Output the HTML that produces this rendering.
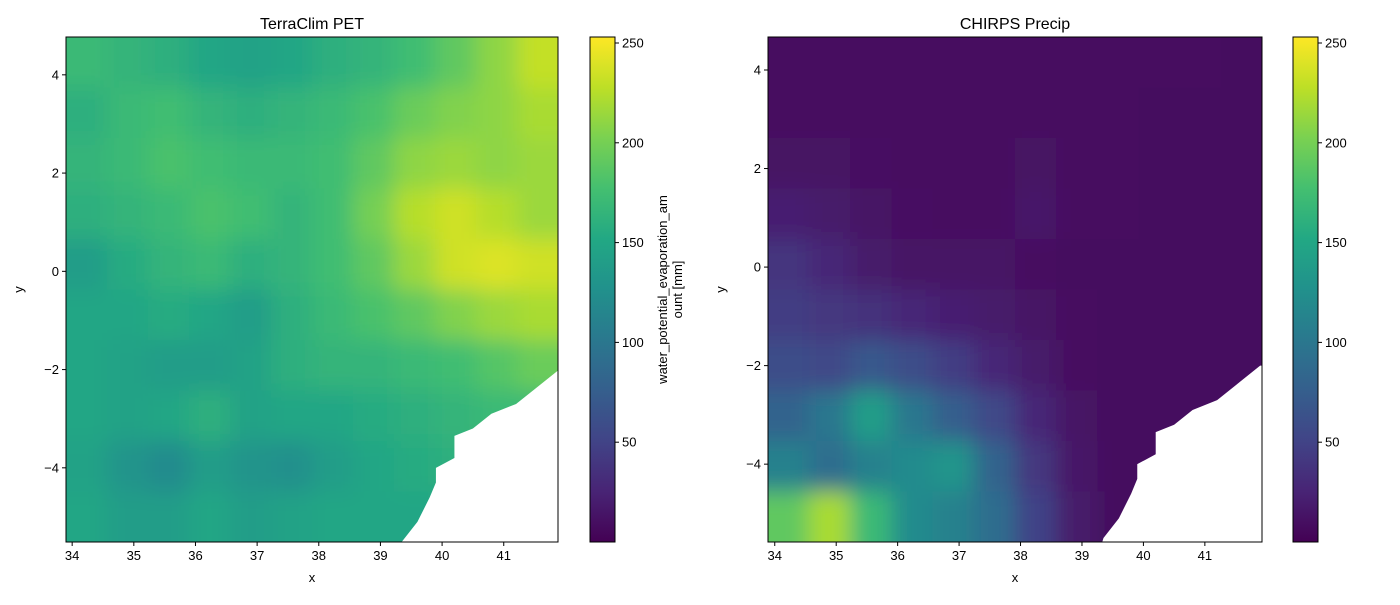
<!DOCTYPE html>
<html><head><meta charset="utf-8">
<style>
body{margin:0;background:#fff;font-family:"Liberation Sans",sans-serif;}
svg text{font-family:"Liberation Sans",sans-serif;fill:#000;}
</style></head>
<body>
<svg id="fig" width="1400" height="600" xmlns="http://www.w3.org/2000/svg">
<defs>
<filter id="blurL" filterUnits="userSpaceOnUse" x="0" y="0" width="700" height="600">
<feGaussianBlur stdDeviation="11"/>
</filter>
<filter id="blurR" filterUnits="userSpaceOnUse" x="700" y="0" width="700" height="600">
<feGaussianBlur stdDeviation="11"/>
</filter>
<linearGradient id="vir" x1="0" y1="1" x2="0" y2="0">
<stop offset="0" stop-color="#440154"/><stop offset="0.1" stop-color="#482475"/>
<stop offset="0.2" stop-color="#414487"/><stop offset="0.3" stop-color="#355f8d"/>
<stop offset="0.4" stop-color="#2a788e"/><stop offset="0.5" stop-color="#21918c"/>
<stop offset="0.6" stop-color="#22a884"/><stop offset="0.7" stop-color="#44bf70"/>
<stop offset="0.8" stop-color="#7ad151"/><stop offset="0.9" stop-color="#bddf26"/>
<stop offset="1" stop-color="#fde725"/>
</linearGradient>
<clipPath id="clipL"><rect x="66" y="37" width="492" height="505"/></clipPath>
<clipPath id="clipR"><rect x="768" y="37" width="494" height="505"/></clipPath>
</defs>
</svg>
<script>
const petGrid = [
[170,165,160,150,145,150,160,165,175,190,210,230],
[160,170,175,165,160,165,170,180,195,205,210,220],
[165,170,180,175,170,170,175,190,210,215,210,215],
[160,165,170,180,175,165,175,200,225,235,225,215],
[140,155,165,170,160,165,175,190,215,235,240,235],
[150,150,155,150,140,160,170,180,190,205,215,220],
[150,145,140,140,145,160,165,165,170,175,185,195],
[150,145,150,160,145,150,150,155,160,165,170,170],
[145,130,120,140,130,125,140,150,155,160,160,160],
[150,140,140,150,140,145,150,150,150,150,150,150]
];
const precipGrid = [
[10,10,10,10,10,10,10,10,10,10,10,8],
[10,10,10,10,10,10,10,10,10,8,8,8],
[12,12,11,10,10,10,12,10,10,8,8,8],
[22,18,13,11,10,10,16,10,10,8,8,8],
[38,28,18,13,13,13,10,8,8,8,8,8],
[45,40,35,28,22,18,13,10,8,8,8,8],
[60,55,70,60,45,28,18,10,8,8,8,8],
[80,100,140,100,75,55,28,13,8,8,8,8],
[110,90,110,120,130,80,40,15,8,8,8,8],
[190,220,170,120,110,90,50,18,8,8,8,8]
];
const coastX = [41.95,41.9,41.5,41.2,40.8,40.5,40.2,40.2,39.9,39.9,39.8,39.6,39.35,39.3];
const coastY = [-2.0,-2.0,-2.4,-2.7,-2.9,-3.2,-3.35,-3.8,-4.0,-4.3,-4.6,-5.1,-5.5,-5.7];
const xTicks = [34,35,36,37,38,39,40,41];
const yTicks = [-4,-2,0,2,4];
const cbTicks = [50,100,150,200,250];
const cbMin = 0, cbMax = 253;

const NS="http://www.w3.org/2000/svg";
const svg=document.getElementById('fig');
function el(t,a,p){const e=document.createElementNS(NS,t);for(const k in a)e.setAttribute(k,a[k]);(p||svg).appendChild(e);return e;}
const stops=["#440154","#482475","#414487","#355f8d","#2a788e","#21918c","#22a884","#44bf70","#7ad151","#bddf26","#fde725"];
function hx(c){return [1,3,5].map(i=>parseInt(c.substr(i,2),16));}
function viridis(v){let t=Math.max(0,Math.min(1,(v-cbMin)/(cbMax-cbMin)))*10;let i=Math.min(9,Math.floor(t));let f=t-i;const a=hx(stops[i]),b=hx(stops[i+1]);return `rgb(${a.map((x,k)=>Math.round(x+(b[k]-x)*f)).join(',')})`;}

function panel(o){
  const sx=v=>o.x0+(v-o.xmin)/(o.xmax-o.xmin)*o.w;
  const sy=v=>o.y0+(o.ymax-v)/(o.ymax-o.ymin)*o.h;
  const g=el('g',{'clip-path':`url(#${o.clip})`});
  
  
  const gb=el('g',{filter:`url(#${o.filter})`},g);
  const rows=o.grid.length, cols=o.grid[0].length;
  const cw=(o.xmax-o.xmin)/cols, ch=(o.ymax-o.ymin)/rows;
  const pad=40;
  o.grid.forEach((row,r)=>row.forEach((v,c)=>{
    let x=sx(o.xmin+c*cw), y=sy(o.ymax-r*ch);
    let x2=sx(o.xmin+(c+1)*cw)+1, y2=sy(o.ymax-(r+1)*ch)+1;
    if(c===0)x-=pad; if(c===cols-1)x2+=pad;
    if(r===0)y-=pad; if(r===rows-1)y2+=pad;
    const cell=el('rect',{x:x,y:y,width:x2-x,height:y2-y,fill:viridis(v)},gb);
    
    
  }));
  let pts=coastX.map((x,i)=>`${sx(x)},${sy(coastY[i])}`);
  pts.push(`${o.x0+o.w+5},${o.y0+o.h+5}`);
  const mask=el('polygon',{points:pts.join(' '),fill:'#fff'},g);
  
  
  const fr=el('rect',{x:o.x0,y:o.y0,width:o.w,height:o.h,fill:'none',stroke:'#000','stroke-width':1});
  
  
  xTicks.forEach(t=>{const x=sx(t);
    el('line',{x1:x,x2:x,y1:o.y0+o.h,y2:o.y0+o.h+4,stroke:'#000'});
    const tx=el('text',{x:x,y:o.y0+o.h+18,'text-anchor':'middle','font-size':13});tx.textContent=t;
    
    });
  yTicks.forEach(t=>{const y=sy(t);
    el('line',{x1:o.x0-4,x2:o.x0,y1:y,y2:y,stroke:'#000'});
    const tx=el('text',{x:o.x0-7,y:y+4.5,'text-anchor':'end','font-size':13});tx.textContent=(t<0?'\u2212'+(-t):t);
    
    });
  const xl=el('text',{x:o.x0+o.w/2,y:582,'text-anchor':'middle','font-size':13});xl.textContent='x';
  
  
  const yl=el('text',{x:0,y:0,'text-anchor':'middle','font-size':13,transform:`translate(${o.x0-43},${o.y0+o.h/2}) rotate(-90)`});yl.textContent='y';
  
  
  const ti=el('text',{x:o.x0+o.w/2,y:29,'text-anchor':'middle','font-size':16});ti.textContent=o.title;
  
  
  const cb=el('rect',{x:o.cbx,y:o.y0,width:25,height:o.h,fill:'url(#vir)',stroke:'#000','stroke-width':1});
  
  
  cbTicks.forEach(t=>{const y=o.y0+o.h-(t-cbMin)/(cbMax-cbMin)*o.h;
    el('line',{x1:o.cbx+25,x2:o.cbx+29,y1:y,y2:y,stroke:'#000'});
    const tx=el('text',{x:o.cbx+32,y:y+4.5,'font-size':13});tx.textContent=t;
    
    });
  if(o.cblabel){
    const lb=el('text',{x:0,y:0,'text-anchor':'middle','font-size':13,transform:`translate(${o.cbx+77},${o.y0+o.h/2}) rotate(-90)`});
    const t1=el('tspan',{x:0,dy:0},lb);t1.textContent='water_potential_evaporation_am';
    const t2=el('tspan',{x:0,dy:15},lb);t2.textContent='ount [mm]';
    
    
  }
}
panel({name:'pet',grid:petGrid,x0:66,y0:37,w:492,h:505,xmin:33.9,xmax:41.88,ymin:-5.51,ymax:4.77,clip:'clipL',filter:'blurL',title:'TerraClim PET',cbx:590,cblabel:true});
panel({name:'precip',grid:precipGrid,x0:768,y0:37,w:494,h:505,xmin:33.89,xmax:41.93,ymin:-5.58,ymax:4.67,clip:'clipR',filter:'blurR',title:'CHIRPS Precip',cbx:1293,cblabel:false});
</script>
</body></html>
